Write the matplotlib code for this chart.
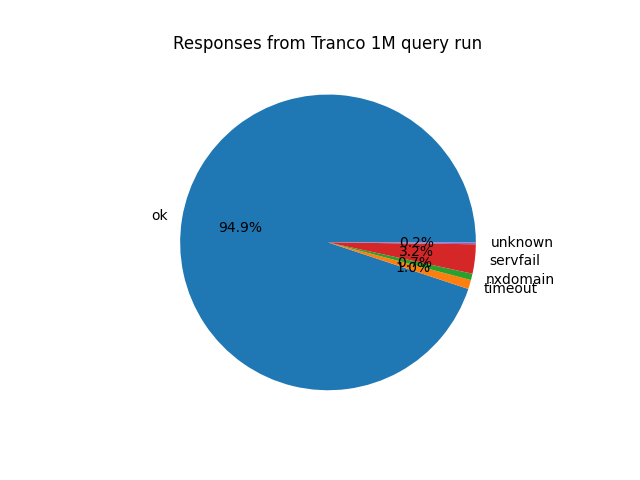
import matplotlib
matplotlib.use("Agg")
import matplotlib.pyplot as plt

# Share of responses per result type (percent)
labels = ["ok", "timeout", "nxdomain", "servfail", "unknown"]
shares = [94.9, 1.0, 0.7, 3.2, 0.2]

fig, ax = plt.subplots(figsize=(6.4, 4.8), dpi=100)
ax.pie(shares, labels=labels, autopct="%1.1f%%")
ax.set_title("Responses from Tranco 1M query run")

plt.savefig("out.png", dpi=100)
plt.close()
